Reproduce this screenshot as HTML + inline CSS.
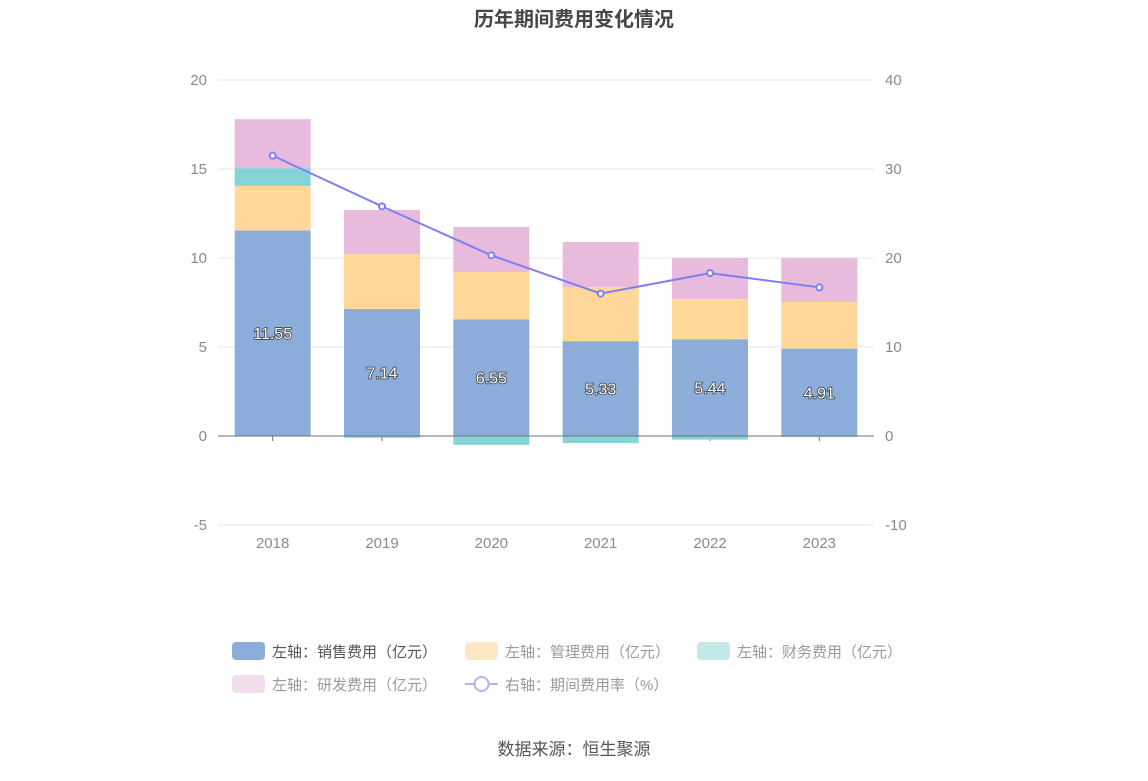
<!DOCTYPE html>
<html><head><meta charset="utf-8">
<style>
body{margin:0;background:#fff;}
svg text{font-family:"Liberation Sans","Noto Sans CJK SC",sans-serif;}
</style></head>
<body>
<svg id="chart" width="1148" height="776" viewBox="0 0 1148 776" xmlns="http://www.w3.org/2000/svg">
<text x="574" y="26" text-anchor="middle" font-size="20" font-weight="bold" fill="#464646">历年期间费用变化情况</text>
<g id="grid"></g>
<g id="bars"></g>
<g id="line"></g>
<g id="labels"></g>
<g font-size="15">
 <g><rect x="232" y="642" width="33" height="18" rx="4" fill="#8cadd9"/><text x="272" y="657" fill="#555">左轴：销售费用（亿元）</text></g>
 <g><rect x="465" y="642" width="33" height="18" rx="4" fill="#fde8c4"/><text x="505" y="657" fill="#999">左轴：管理费用（亿元）</text></g>
 <g><rect x="697" y="642" width="33" height="18" rx="4" fill="#c2e8ea"/><text x="737" y="657" fill="#999">左轴：财务费用（亿元）</text></g>
 <g><rect x="232" y="675" width="33" height="18" rx="4" fill="#f1dcec"/><text x="272" y="690" fill="#999">左轴：研发费用（亿元）</text></g>
 <g><line x1="465" y1="684" x2="498" y2="684" stroke="#b3b3f5" stroke-width="2"/><circle cx="481.5" cy="684" r="7" fill="#fff" stroke="#b3b3f5" stroke-width="2"/><text x="505" y="690" fill="#999">右轴：期间费用率（%）</text></g>
</g>
<text x="574" y="755" text-anchor="middle" font-size="17" fill="#555">数据来源：恒生聚源</text>
</svg>
<script>
const years=["2018","2019","2020","2021","2022","2023"];
const sales=[11.55,7.14,6.55,5.33,5.44,4.91];
const mgmt=[2.5,3.08,2.66,3.04,2.26,2.62];
const fin=[1.0,-0.1,-0.5,-0.4,-0.2,-0.05];
const rd=[2.75,2.48,2.53,2.53,2.3,2.47];
const rate=[31.5,25.8,20.3,16.0,18.3,16.7];
const leftTicks=[-5,0,5,10,15,20];
const rightTicks=[-10,0,10,20,30,40];

const NS="http://www.w3.org/2000/svg";
const x0=218,x1=874,zeroY=436,unitL=17.8,unitR=8.9;
const yL=v=>zeroY-v*unitL, yR=v=>zeroY-v*unitR;
const band=(x1-x0)/years.length;
const xC=i=>x0+band*(i+0.5);
const bw=76;
function mk(tag,attrs,parent){const e=document.createElementNS(NS,tag);for(const k in attrs)e.setAttribute(k,attrs[k]);parent.appendChild(e);return e;}
const grid=document.getElementById('grid');
leftTicks.forEach((t,i)=>{
 const y=yL(t);
 const l=mk('line',{x1:x0,x2:x1,y1:y,y2:y,stroke:'#e0e6f1'},grid);
 
 
 const a=mk('text',{x:207,y:y+5,'text-anchor':'end','font-size':15,fill:'#8a8a8a'},grid);a.textContent=t;
 
 
 const b=mk('text',{x:885,y:y+5,'font-size':15,fill:'#8a8a8a'},grid);b.textContent=rightTicks[i];
 
 
});
const bars=document.getElementById('bars');
const labels=document.getElementById('labels');
years.forEach((yr,i)=>{
 const cx=xC(i);
 let pos=0,neg=0;
 [[sales,'#8cadd9','bar-sales'],[mgmt,'#ffd899','bar-management'],[fin,'#86d3d6','bar-finance'],[rd,'#e8badb','bar-rd']].forEach(([arr,c,n])=>{
  const v=arr[i];let a,b;
  if(v>=0){a=pos;b=pos+v;pos=b;}else{a=neg;b=neg+v;neg=b;}
  const top=Math.min(yL(a),yL(b)),h=Math.abs(yL(a)-yL(b));
  const r=mk('rect',{x:cx-bw/2,y:top,width:bw,height:h,fill:c},bars);
  
  
 });
 const t=mk('text',{x:cx,y:yL(sales[i]/2)+6,'text-anchor':'middle','font-size':16,fill:'#fff',stroke:'#333','stroke-width':1.5,'paint-order':'stroke'},labels);
 t.textContent=sales[i].toFixed(2);
 
 
 const tk=mk('line',{x1:cx,x2:cx,y1:zeroY,y2:zeroY+5,stroke:'#6e7079'},grid);
 
 
 const xl=mk('text',{x:cx,y:548,'text-anchor':'middle','font-size':15,fill:'#8a8a8a'},grid);xl.textContent=yr;
 
 
});
const ax=mk('line',{x1:x0,x2:x1,y1:zeroY,y2:zeroY,stroke:'#6e7079'},bars);


const line=document.getElementById('line');
const pl=mk('polyline',{points:rate.map((v,i)=>xC(i)+','+yR(v)).join(' '),fill:'none',stroke:'#7f7ff5','stroke-width':2},line);


rate.forEach((v,i)=>{
 const c=mk('circle',{cx:xC(i),cy:yR(v),r:3,fill:'#fff',stroke:'#7f7ff5','stroke-width':2},line);
 
 
});
</script>
</body></html>
